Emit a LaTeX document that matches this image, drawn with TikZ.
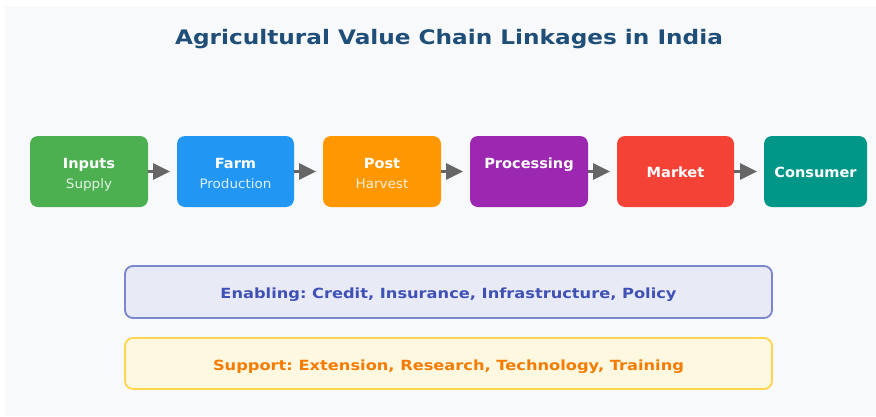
\documentclass[tikz,border=0pt]{standalone}
\usepackage{graphicx}
\usepackage{fontspec}
\setmainfont{DejaVu Sans}
\usetikzlibrary{arrows.meta}
\frenchspacing
\definecolor{bgc}{HTML}{F8F9FA}
\definecolor{titlec}{HTML}{1F4E79}
\definecolor{cin}{HTML}{4CAF50}
\definecolor{cfarm}{HTML}{2196F3}
\definecolor{cpost}{HTML}{FF9800}
\definecolor{cproc}{HTML}{9C27B0}
\definecolor{cmark}{HTML}{F44336}
\definecolor{ccons}{HTML}{009688}
\definecolor{arrc}{HTML}{666666}
\definecolor{enfill}{HTML}{E8EAF6}
\definecolor{endraw}{HTML}{7986CB}
\definecolor{entext}{HTML}{3F51B5}
\definecolor{sufill}{HTML}{FFF8E1}
\definecolor{sudraw}{HTML}{FFD54F}
\definecolor{sutext}{HTML}{F57C00}
\newcommand{\hstretch}[1]{\scalebox{1.16}[1]{#1}}
\newcommand{\lstretch}[1]{\scalebox{1.04}[1]{#1}}
\tikzset{
  stagebox/.style={rounded corners=8pt, draw=none},
  lbl/.style={anchor=base, text=white, font=\bfseries\fontsize{14}{17}\selectfont, inner sep=0pt},
  sublbl/.style={anchor=base, text=white, text opacity=0.85, font=\fontsize{13}{15}\selectfont, inner sep=0pt},
  flow/.style={draw=arrc, line width=3pt, -{Triangle[length=17pt,width=16pt]}, shorten >=7pt},
  band/.style={rounded corners=8pt, line width=1.8pt},
  bandtxt/.style={anchor=base, font=\bfseries\fontsize{14}{17}\selectfont, inner sep=0pt}
}
\begin{document}
\begin{tikzpicture}[x=1pt,y=-1pt]
\useasboundingbox (0,0) rectangle (876,416);
\fill[white] (0,0) rectangle (876,416);
\fill[bgc] (5,6) rectangle (876,416);
\node[anchor=base, text=titlec, font=\bfseries\fontsize{20}{24}\selectfont, inner sep=0pt] (title) at (449,44) {\hstretch{Agricultural Value Chain Linkages in India}};
% stage boxes
\path[stagebox, fill=cin]   (30,136)  rectangle (148,207);
\path[stagebox, fill=cfarm] (177,136) rectangle (294,207);
\path[stagebox, fill=cpost] (323,136) rectangle (441,207);
\path[stagebox, fill=cproc] (470,136) rectangle (588,207);
\path[stagebox, fill=cmark] (617,136) rectangle (734,207);
\path[stagebox, fill=ccons] (764,136) rectangle (867,207);
\coordinate (inR) at (148,171.5);   \coordinate (farmL) at (177,171.5);
\coordinate (farmR) at (294,171.5); \coordinate (postL) at (323,171.5);
\coordinate (postR) at (441,171.5); \coordinate (procL) at (470,171.5);
\coordinate (procR) at (588,171.5); \coordinate (markL) at (617,171.5);
\coordinate (markR) at (734,171.5); \coordinate (consL) at (764,171.5);
\node[lbl] (inT) at (89,168.5) {\lstretch{Inputs}};
\node[sublbl] (inS) at (89,188) {\lstretch{Supply}};
\node[lbl] (farmT) at (235.5,168.5) {\lstretch{Farm}};
\node[sublbl] (farmS) at (235.5,188) {\lstretch{Production}};
\node[lbl] (postT) at (382,168.5) {\lstretch{Post}};
\node[sublbl] (postS) at (382,188) {\lstretch{Harvest}};
\node[lbl] (procT) at (529,168) {\lstretch{Processing}};
\node[lbl] (markT) at (675.5,177.5) {\lstretch{Market}};
\node[lbl] (consT) at (815.5,177.5) {\lstretch{Consumer}};
% arrows
\draw[flow] (inR) -- (farmL);
\draw[flow] (farmR) -- (postL);
\draw[flow] (postR) -- (procL);
\draw[flow] (procR) -- (markL);
\draw[flow] (markR) -- (consL);
% bands
\path[band, draw=endraw, fill=enfill] (125,266) rectangle (772,318);
\node[bandtxt, text=entext] (enT) at (448.5,298) {\hstretch{Enabling: Credit, Insurance, Infrastructure, Policy}};
\path[band, draw=sudraw, fill=sufill] (125,338) rectangle (772,389);
\node[bandtxt, text=sutext] (suT) at (448.5,370) {\hstretch{Support: Extension, Research, Technology, Training}};
\end{tikzpicture}
\end{document}
